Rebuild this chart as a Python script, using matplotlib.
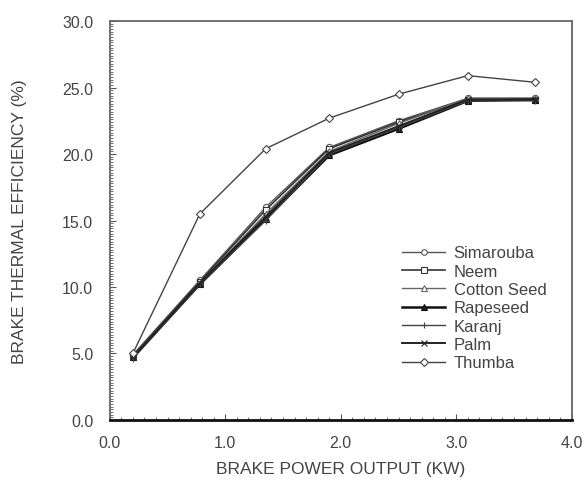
import matplotlib
matplotlib.use("Agg")
import matplotlib.pyplot as plt
from matplotlib.ticker import MultipleLocator, FormatStrFormatter

plt.rcParams['font.family'] = ['Liberation Sans', 'DejaVu Sans']

# brake power output (kW)
power = [0.2, 0.78, 1.35, 1.9, 2.5, 3.1, 3.68]

# brake thermal efficiency (%)
simarouba = [4.9, 10.5, 16.0, 20.5, 22.5, 24.2, 24.2]
neem = [4.8, 10.4, 15.8, 20.4, 22.4, 24.1, 24.1]
cotton_seed = [4.8, 10.3, 15.5, 20.2, 22.3, 24.2, 24.2]
rapeseed = [4.7, 10.2, 15.1, 19.9, 21.9, 24.0, 24.1]
karanj = [4.6, 10.2, 15.0, 20.0, 22.0, 24.0, 24.0]
palm = [4.7, 10.3, 15.3, 20.1, 22.1, 24.1, 24.1]
thumba = [5.0, 15.5, 20.4, 22.7, 24.5, 25.9, 25.4]

names = ['Simarouba', 'Neem', 'Cotton Seed', 'Rapeseed', 'Karanj', 'Palm', 'Thumba']
series = [simarouba, neem, cotton_seed, rapeseed, karanj, palm, thumba]
markers = ['o', 's', '^', '^', '+', 'x', 'D']
fills = ['white', 'white', 'white', '#222222', '#222222', '#222222', 'white']
colors = ['#555555', '#333333', '#666666', '#111111', '#444444', '#222222', '#444444']
widths = [1.0, 1.2, 1.0, 1.8, 1.0, 1.4, 1.0]

fig = plt.figure(figsize=(5.84, 4.81), dpi=100)
ax = fig.add_axes([0.188, 0.125, 0.791, 0.829])

for name, ys, m, fc, c, lw in zip(names, series, markers, fills, colors, widths):
    ax.plot(power, ys, marker=m, markersize=4.5, markerfacecolor=fc,
            markeredgecolor=c, markeredgewidth=0.8, color=c, linewidth=lw,
            label=name)

ax.set_xlim(0, 4)
ax.set_ylim(0, 30)
ax.xaxis.set_major_locator(MultipleLocator(1.0))
ax.xaxis.set_minor_locator(MultipleLocator(0.1))
ax.yaxis.set_major_locator(MultipleLocator(5.0))
ax.yaxis.set_minor_locator(MultipleLocator(0.2))
ax.xaxis.set_major_formatter(FormatStrFormatter('%.1f'))
ax.yaxis.set_major_formatter(FormatStrFormatter('%.1f'))
ax.tick_params(axis='both', which='both', direction='in', colors='#555555',
               labelcolor='#444444', labelsize=11.5)
ax.tick_params(axis='x', which='major', length=4, pad=11)
ax.tick_params(axis='y', which='major', length=4, pad=12)
ax.tick_params(axis='both', which='minor', length=2)

for side in ['top', 'right', 'left']:
    ax.spines[side].set_color('#666666')
    ax.spines[side].set_linewidth(1.3)
ax.spines['bottom'].set_color('#111111')
ax.spines['bottom'].set_linewidth(2.0)

ax.set_xlabel('BRAKE POWER OUTPUT (KW)', fontsize=12.5, color='#444444', labelpad=8)
ax.set_ylabel('BRAKE THERMAL EFFICIENCY (%)', fontsize=12.5, color='#444444', labelpad=25)

leg = ax.legend(loc='upper left', bbox_to_anchor=(0.6, 0.475), frameon=False,
                fontsize=12, handlelength=2.6, handletextpad=0.5,
                labelspacing=0.2, labelcolor='#444444')
for h in leg.legend_handles:
    h.set_markersize(4)

fig.savefig('out.png', dpi=100)
